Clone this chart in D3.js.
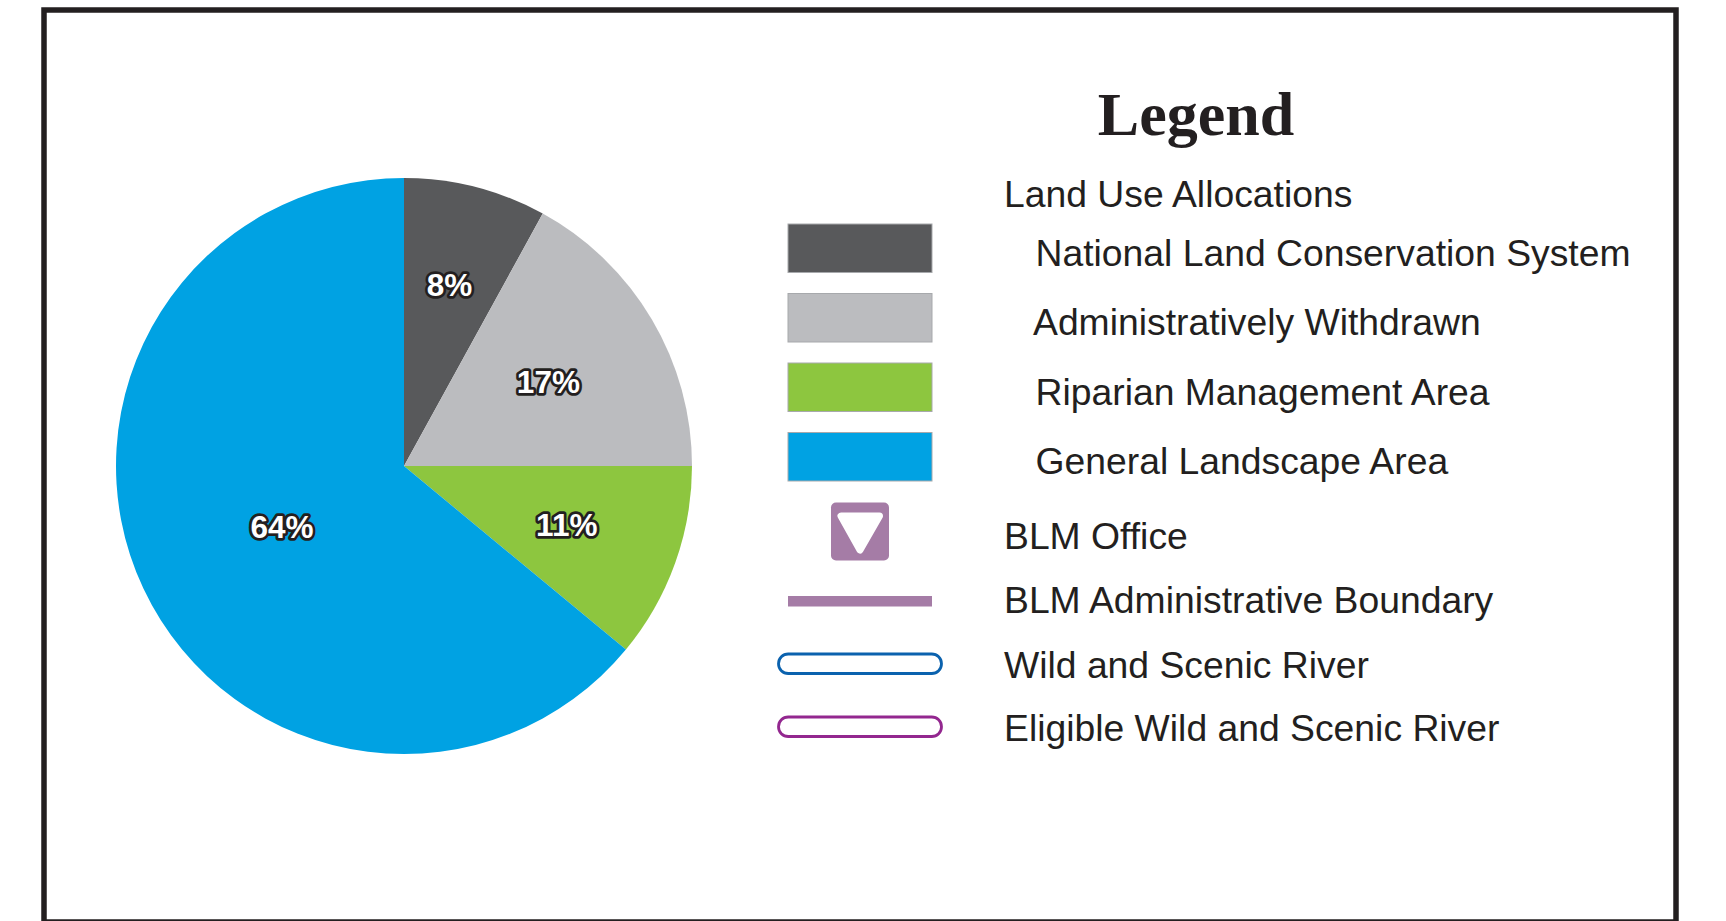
<!DOCTYPE html>
<html>
<head>
<meta charset="utf-8">
<script src="https://cdn.jsdelivr.net/npm/d3@7"></script>
<style>
  html, body { margin: 0; background: #fff; overflow: hidden; }
  svg { display: block; }
  .item { font-family: "Liberation Sans", Arial, sans-serif; font-size: 37.3px; fill: #231f20; }
  .pct { font-family: "Liberation Sans", Arial, sans-serif; font-size: 31.5px; font-weight: bold; fill: #fff;
         stroke: #231f20; stroke-width: 5.5px; paint-order: stroke; stroke-linejoin: round; text-anchor: middle; }
</style>
</head>
<body>
<div id="chart"></div>
<script>
const categories = ["National Land Conservation System", "Administratively Withdrawn", "Riparian Management Area", "General Landscape Area"];
const shares = [8, 17, 11, 64];
const colors = ["#58595b", "#bbbcbf", "#8dc63f", "#00a2e3"];

const width = 1726, height = 921;
const cx = 404, cy = 466, radius = 288;

const svg = d3.select("#chart").append("svg")
    .attr("width", width)
    .attr("height", height);

// frame, only the top of its bottom edge is on the page
svg.append("rect")
    .attr("x", 44)
    .attr("y", 10)
    .attr("width", 1632)
    .attr("height", 912)
    .attr("fill", "none")
    .attr("stroke", "#231f20")
    .attr("stroke-width", 5.5);

const pie = d3.pie().sort(null).value(d => d);
const arc = d3.arc().innerRadius(0).outerRadius(radius);

const slices = svg.append("g")
    .attr("transform", `translate(${cx},${cy})`);

slices.selectAll("path")
    .data(pie(shares))
    .enter()
    .append("path")
    .attr("d", arc)
    .attr("fill", (d, i) => colors[i]);

// labels sit at a different distance from the centre in each slice
const labelRadius = [187, 166, 173, 136];
const labelNudge = [[-1, 0], [1.5, 0], [0, 0], [1, 2.5]];

slices.selectAll("text")
    .data(pie(shares))
    .enter()
    .append("text")
    .attr("class", "pct")
    .attr("transform", (d, i) => {
        const r = labelRadius[i];
        const p = d3.arc().innerRadius(r).outerRadius(r).centroid(d);
        return `translate(${p[0] + labelNudge[i][0]},${p[1] + labelNudge[i][1]})`;
    })
    .attr("dy", "0.36em")
    .text(d => `${d.data}%`);

// legend
svg.append("text")
    .attr("x", 1196)
    .attr("y", 135)
    .attr("text-anchor", "middle")
    .style("font-family", "'Liberation Serif', serif")
    .style("font-weight", "bold")
    .style("font-size", "62px")
    .style("fill", "#231f20")
    .text("Legend");

svg.append("text")
    .attr("class", "item")
    .attr("x", 1004)
    .attr("y", 207)
    .text("Land Use Allocations");

const swatchY = d3.scalePoint().domain(categories).range([224, 432.5]);
const labelX = [1035.5, 1033, 1035.5, 1035.5];

svg.selectAll(".swatch")
    .data(categories)
    .enter()
    .append("rect")
    .attr("class", "swatch")
    .attr("x", 788)
    .attr("y", d => swatchY(d))
    .attr("width", 144)
    .attr("height", 48.5)
    .attr("fill", (d, i) => colors[i])
    .attr("stroke", "#a7a9ac")
    .attr("stroke-width", 1);

svg.selectAll(".cat")
    .data(categories)
    .enter()
    .append("text")
    .attr("class", "item cat")
    .attr("x", (d, i) => labelX[i])
    .attr("y", d => swatchY(d) + 41.5)
    .text(d => d);

// BLM office symbol
const purple = "#a57ca6";
svg.append("rect")
    .attr("x", 831)
    .attr("y", 502.5)
    .attr("width", 58)
    .attr("height", 58)
    .attr("rx", 5)
    .attr("fill", purple);

svg.append("path")
    .attr("d", d3.line()([[841, 516], [879.5, 516], [860, 550]]) + "Z")
    .attr("fill", "#fff")
    .attr("stroke", "#fff")
    .attr("stroke-width", 7)
    .attr("stroke-linejoin", "round");

svg.append("text").attr("class", "item").attr("x", 1004).attr("y", 548.5).text("BLM Office");

svg.append("rect")
    .attr("x", 788)
    .attr("y", 596)
    .attr("width", 144)
    .attr("height", 10.5)
    .attr("fill", purple);

svg.append("text").attr("class", "item").attr("x", 1004).attr("y", 612.5).text("BLM Administrative Boundary");

const rivers = ["Wild and Scenic River", "Eligible Wild and Scenic River"];
const riverColors = ["#0b62ae", "#93278f"];
const riverTop = [654, 717];

svg.selectAll(".river")
    .data(rivers)
    .enter()
    .append("rect")
    .attr("class", "river")
    .attr("x", 778.5)
    .attr("y", (d, i) => riverTop[i])
    .attr("width", 163)
    .attr("height", 19.5)
    .attr("rx", 9.75)
    .attr("fill", "#fff")
    .attr("stroke", (d, i) => riverColors[i])
    .attr("stroke-width", 2.8);

svg.selectAll(".river-label")
    .data(rivers)
    .enter()
    .append("text")
    .attr("class", "item river-label")
    .attr("x", 1004)
    .attr("y", (d, i) => riverTop[i] + 23.5)
    .text(d => d);
</script>
</body>
</html>
